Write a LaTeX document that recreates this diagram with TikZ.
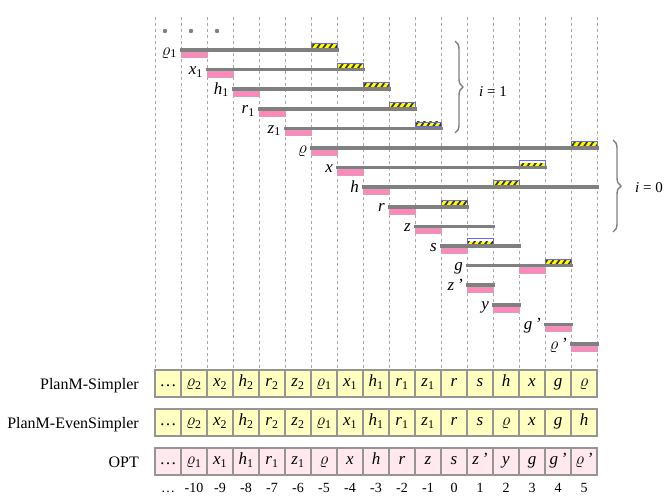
\documentclass[tikz,border=0pt]{standalone}
\usepackage{fontspec}
\setmainfont{Liberation Serif}
\usetikzlibrary{decorations.pathreplacing,patterns.meta}
\definecolor{barc}{HTML}{808080}
\definecolor{gridc}{HTML}{A8A8A8}
\definecolor{pinkc}{HTML}{FF88BB}
\definecolor{pinkd}{HTML}{D8A0B8}
\definecolor{hatchy}{HTML}{FFFF00}
\definecolor{hatchs}{HTML}{3A3A10}
\definecolor{hatchb}{HTML}{6666FF}
\definecolor{celly}{HTML}{FFFFC0}
\definecolor{cellp}{HTML}{FFE8EE}
\definecolor{celld}{HTML}{959595}
\newcommand\rr{\ensuremath{\varrho}}
\newcommand\itl[1]{\textit{#1}}
\newcommand\sbs[1]{\textsubscript{#1}}
\tikzset{
  gridline/.style={gridc, dash pattern=on 3pt off 3pt, line width=0.7pt},
  barline/.style={barc, line width=3.5pt},
  pinkbox/.style={fill=pinkc, draw=pinkd, line width=0.6pt},
  hatchfill/.style={fill=hatchy, postaction={pattern={Lines[angle=55,distance=5pt,line width=1.8pt]}, pattern color=hatchs}},
  hatchedge/.style={draw=hatchb, line width=0.8pt},
  barlabel/.style={anchor=base east, inner sep=0pt, font=\fontsize{17}{20}\selectfont},
  cellbox/.style={draw=celld, line width=1.5pt, minimum width=26pt, minimum height=27pt, inner sep=0pt, outer sep=0pt, text height=10pt, text depth=4pt, font=\fontsize{17}{20}\selectfont},
  ycell/.style={cellbox, fill=celly},
  pcell/.style={cellbox, fill=cellp},
  rowlabel/.style={anchor=base east, inner sep=0pt, font=\fontsize{16}{19}\selectfont},
  numlabel/.style={anchor=base, inner sep=0pt, font=\fontsize{14}{17}\selectfont},
  bracegray/.style={barc, line width=1.4pt, decorate, decoration={brace, amplitude=8pt}},
  dotc/.style={fill=barc, draw=none}
}
\begin{document}
\begin{tikzpicture}[x=1pt,y=-1pt]
\useasboundingbox (0,0) rectangle (664,501);

% vertical dashed grid
\foreach \j in {0,...,17}
  \draw[gridline] ({155+26*\j},17) -- ({155+26*\j},370);

% dots
\foreach \j/\xx in {1/165,2/191,3/217}
  \fill[dotc] (\xx,31) circle (2.2pt);

% bars
\foreach \i/\p/\s/\e/\h/\t/\lab in {
1/-10/-10/-5/-5/0/{\rr\sbs{1}},
2/-9/-9/-4/-4/0/{\itl{x}\sbs{1}},
3/-8/-8/-3/-3/0/{\itl{h}\sbs{1}},
4/-7/-7/-2/-2/0/{\itl{r}\sbs{1}},
5/-6/-6/-1/-1/0/{\itl{z}\sbs{1}},
6/-5/-5/5/5/0/{\rr},
7/-4/-4/3/3/1/{\itl{x}},
8/-3/-3/5/2/0/{\itl{h}},
9/-2/-2/0/0/0/{\itl{r}},
10/-1/-1/1/99/0/{\itl{z}},
11/0/0/2/1/1/{\itl{s}},
12/3/1/4/4/0/{\itl{g}},
13/1/1/1/99/0/{\itl{z}\,\itl{'}},
14/2/2/2/99/0/{\itl{y}},
15/4/4/4/99/0/{\itl{g}\,\itl{'}},
16/5/5/5/99/0/{\rr\,\itl{'}}}
{
  \pgfmathsetmacro\yy{50+19.6*(\i-1)}
  \pgfmathsetmacro\xs{441+26*\s}
  \pgfmathsetmacro\xe{467+26*\e}
  \pgfmathsetmacro\xp{441+26*\p}
  \path[pinkbox] (\xp+0.5,\yy+1.8) rectangle (\xp+26,\yy+7.3);
  \ifnum\h<99
    \pgfmathsetmacro\xh{441+26*\h}
    \ifnum\t=1
      \path[hatchfill] (\xh,\yy-4.3) rectangle (\xh+26,\yy-1.7);
      \path[hatchedge] (\xh,\yy-7.5) rectangle (\xh+26,\yy-1.7);
    \else
      \path[hatchfill] (\xh,\yy-6.5) rectangle (\xh+26,\yy-1.7);
      \path[hatchedge] (\xh,\yy-6.5) rectangle (\xh+26,\yy-1.7);
    \fi
  \fi
  \draw[barline] (\xs-1.5,\yy) -- (\xe+1.5,\yy);
  \node[barlabel] (lab\i) at (\xs-4,\yy+5) {\lab};
}

% braces
\coordinate (b1t) at (455,41);
\coordinate (b1b) at (455,133);
\coordinate (b0t) at (613,140);
\coordinate (b0b) at (613,232);
\draw[bracegray] (b1t) -- (b1b);
\draw[bracegray] (b0t) -- (b0b);
\node[anchor=base west, inner sep=0pt, font=\fontsize{15}{18}\selectfont] (ione) at (479,96) {\itl{i} = 1};
\node[anchor=base west, inner sep=0pt, font=\fontsize{15}{18}\selectfont] (izero) at (635,192) {\itl{i} = 0};

% rows
\foreach \c [count=\n from 0] in {\dots, \rr\sbs{2}, \itl{x}\sbs{2}, \itl{h}\sbs{2}, \itl{r}\sbs{2}, \itl{z}\sbs{2}, \rr\sbs{1}, \itl{x}\sbs{1}, \itl{h}\sbs{1}, \itl{r}\sbs{1}, \itl{z}\sbs{1}, \itl{r}, \itl{s}, \itl{h}, \itl{x}, \itl{g}, \rr}
  \node[ycell] (sa\n) at ({168+26*\n},383.5) {\c};
\foreach \c [count=\n from 0] in {\dots, \rr\sbs{2}, \itl{x}\sbs{2}, \itl{h}\sbs{2}, \itl{r}\sbs{2}, \itl{z}\sbs{2}, \rr\sbs{1}, \itl{x}\sbs{1}, \itl{h}\sbs{1}, \itl{r}\sbs{1}, \itl{z}\sbs{1}, \itl{r}, \itl{s}, \rr, \itl{x}, \itl{g}, \itl{h}}
  \node[ycell] (sb\n) at ({168+26*\n},422.5) {\c};
\foreach \c [count=\n from 0] in {\dots, \rr\sbs{1}, \itl{x}\sbs{1}, \itl{h}\sbs{1}, \itl{r}\sbs{1}, \itl{z}\sbs{1}, \rr, \itl{x}, \itl{h}, \itl{r}, \itl{z}, \itl{s}, {\itl{z}\,\itl{'}}, \itl{y}, \itl{g}, {\itl{g}\,\itl{'}}, {\rr\,\itl{'}}}
  \node[pcell] (op\n) at ({168+26*\n},461.5) {\c};

\node[rowlabel] (lsa) at (139,389) {PlanM-Simpler};
\node[rowlabel] (lsb) at (139,428) {PlanM-EvenSimpler};
\node[rowlabel] (lop) at (139,467) {OPT};

% numbers
\node[numlabel] (nd) at (168,492) {\dots};
\foreach \k [count=\n from 1] in {-10,-9,-8,-7,-6,-5,-4,-3,-2,-1,0,1,2,3,4,5}
  \node[numlabel] (num\n) at ({168+26*\n},492) {\k};
\end{tikzpicture}
\end{document}
